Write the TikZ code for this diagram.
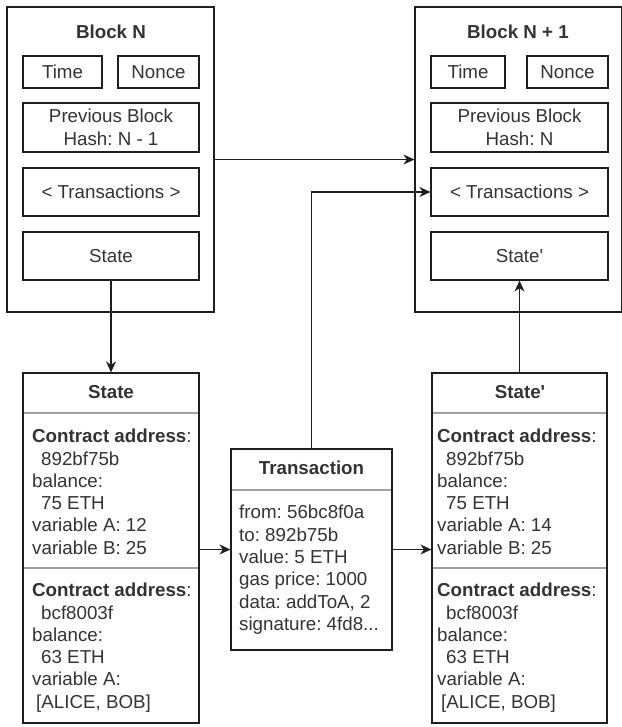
\documentclass[tikz,border=0pt]{standalone}
\usepackage{fontspec}
\setmainfont{Liberation Sans}[Ligatures=TeXOff]
\usetikzlibrary{arrows.meta}
\definecolor{txt}{HTML}{333333}
\definecolor{edge}{HTML}{1E1E1E}
\definecolor{sepc}{HTML}{A0A0A0}
\newcommand\sigline{signature: 4fd8...}
\begin{document}
\frenchspacing
\begin{tikzpicture}[x=1pt,y=-1pt,
  every node/.style={text=txt, font=\fontsize{18.75}{22.5}\selectfont\frenchspacing},
  frame/.style={draw=edge, line width=1.2pt, inner sep=0pt},
  title/.style={font=\fontsize{18.75}{22.5}\selectfont\bfseries\frenchspacing, inner sep=0pt},
  line/.style={anchor=base west, inner sep=0pt},
  sepline/.style={draw=sepc, line width=1.1pt},
  conn/.style={draw=edge, line width=1.2pt, -{Stealth[length=11pt,width=10pt,inset=3.5pt]}}
]
\useasboundingbox (0,0) rectangle (621,727);

% ---- Block N ----
\node[frame, minimum width=207pt, minimum height=305pt] (bN) at (110.5,159.5) {};
\node[title] (tN) at (111,32) {Block N};
\node[frame, minimum width=79pt, minimum height=32pt] (timeN) at (62.5,72) {Time};
\node[frame, minimum width=81pt, minimum height=32pt] (nonceN) at (158.5,72) {Nonce};
\node[frame, minimum width=176pt, minimum height=49pt, align=center] (prevN) at (111,127.5) {Previous Block\\Hash: N - 1};
\node[frame, minimum width=176pt, minimum height=48pt] (trN) at (111,192) {< Transactions >};
\node[frame, minimum width=176pt, minimum height=48pt] (stN) at (111,256) {State};

% ---- Block N + 1 ----
\node[frame, minimum width=207pt, minimum height=305pt] (bM) at (518.5,159.5) {};
\node[title] (tM) at (518,32) {Block N + 1};
\node[frame, minimum width=74pt, minimum height=32pt] (timeM) at (468,72) {Time};
\node[frame, minimum width=81pt, minimum height=32pt] (nonceM) at (567.5,72) {Nonce};
\node[frame, minimum width=177pt, minimum height=49pt, align=center] (prevM) at (519.5,127.5) {Previous Block\\Hash: N};
\node[frame, minimum width=177pt, minimum height=48pt] (trM) at (519.5,192) {< Transactions >};
\node[frame, minimum width=177pt, minimum height=48pt] (stM) at (519.5,256) {State'};

% ---- State table ----
\node[frame, minimum width=176pt, minimum height=350pt] (sA) at (111,548) {};
\draw[sepline] (23.6,413) -- (198.4,413);
\draw[sepline] (23.6,568) -- (198.4,568);
\node[title] (sAt) at (111,392) {State};
\foreach \t [count=\i] in {{{\bfseries Contract address}:},{\hspace{9pt}892bf75b},{balance:},{\hspace{9pt}75 ETH},{variable A: 12},{variable B: 25}}
  \node[line] (sAa\i) at (32,{436+6.7+22.3*(\i-1)}) {\t};
\foreach \t [count=\i] in {{{\bfseries Contract address}:},{\hspace{9pt}bcf8003f},{balance:},{\hspace{9pt}63 ETH},{variable A:},{\hspace{4pt}[ALICE, BOB]}}
  \node[line] (sAb\i) at (32,{590+6.7+22.3*(\i-1)}) {\t};

% ---- Transaction table ----
\node[frame, minimum width=161pt, minimum height=201pt] (tx) at (311.5,549.5) {};
\draw[sepline] (231.6,490) -- (391.4,490);
\node[title] (txT) at (311.5,468) {Transaction};
\foreach \t [count=\i] in {{from: 56bc8f0a},{to: 892b75b},{value: 5 ETH},{gas price: 1000},{data: addToA, 2},{\sigline}}
  \node[line] (tx\i) at (239,{512+6.7+22.4*(\i-1)}) {\t};

% ---- State' table ----
\node[frame, minimum width=175pt, minimum height=350pt] (sB) at (519.5,548) {};
\draw[sepline] (432.6,413) -- (606.4,413);
\draw[sepline] (432.6,568) -- (606.4,568);
\node[title] (sBt) at (520,392) {State'};
\foreach \t [count=\i] in {{{\bfseries Contract address}:},{\hspace{9pt}892bf75b},{balance:},{\hspace{9pt}75 ETH},{variable A: 14},{variable B: 25}}
  \node[line] (sBa\i) at (437,{436+6.7+22.3*(\i-1)}) {\t};
\foreach \t [count=\i] in {{{\bfseries Contract address}:},{\hspace{9pt}bcf8003f},{balance:},{\hspace{9pt}63 ETH},{variable A:},{\hspace{4pt}[ALICE, BOB]}}
  \node[line] (sBb\i) at (437,{590+6.7+22.3*(\i-1)}) {\t};

% ---- connectors ----
\draw[conn] (stN.south) -- (sA.north);
\draw[conn] (bN.east) -- (bM.west);
\draw[conn] (tx.north) |- (trM.west);
\draw[conn] (tx.west -| sA.east) -- (tx.west);
\draw[conn] (tx.east) -- (tx.east -| sB.west);
\draw[conn] (sB.north) -- (stM.south);
\end{tikzpicture}
\end{document}
